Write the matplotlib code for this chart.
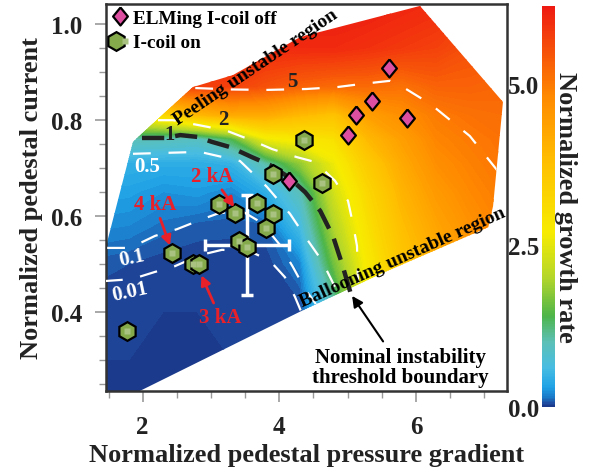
import matplotlib
matplotlib.use('Agg')
import matplotlib.pyplot as plt
import numpy as np
from matplotlib.colors import LinearSegmentedColormap, Normalize
from matplotlib.patches import Polygon
from matplotlib.legend_handler import HandlerTuple
from matplotlib.ticker import MultipleLocator, FormatStrFormatter

plt.rcParams['font.family'] = ['Liberation Serif', 'DejaVu Serif']
plt.rcParams['font.weight'] = 'bold'

# growth-rate map: rows = pedestal current, cols = pressure gradient
grid_x = [1.3, 1.8, 2.3, 2.8, 3.3, 3.8, 4.3, 4.8, 5.3, 5.8, 6.3, 6.8, 7.3]
grid_y = [0.15, 0.3, 0.4, 0.5, 0.58, 0.65, 0.71, 0.76, 0.81, 0.87, 0.95, 1.05]
growth = [
    [0, 0, 0, 0, 0, 0, 0, 0.4, 2.4, 3.2, 3.9, 4.3, 4.5],
    [0, 0, 0, 0, 0, 0, 0, 0.6, 2.5, 3.3, 3.95, 4.35, 4.55],
    [0.005, 0.001, 0, 0, 0.001, 0.002, 0.01, 0.9, 2.6, 3.4, 4.0, 4.4, 4.6],
    [0.08, 0.05, 0.015, 0.007, 0.01, 0.01, 0.18, 1.6, 2.8, 3.6, 4.1, 4.5, 4.8],
    [0.22, 0.2, 0.13, 0.08, 0.07, 0.09, 0.6, 2.0, 3.0, 3.8, 4.3, 4.65, 4.9],
    [0.34, 0.32, 0.25, 0.28, 0.2, 0.42, 0.95, 2.3, 3.2, 4.0, 4.5, 4.8, 4.98],
    [0.46, 0.45, 0.42, 0.42, 0.48, 1.05, 1.8, 2.6, 3.5, 4.2, 4.7, 4.9, 5.05],
    [1.0, 1.0, 0.95, 0.9, 1.4, 2.6, 2.8, 3.0, 3.9, 4.4, 4.85, 4.98, 5.1],
    [2.8, 2.8, 3.2, 3.9, 4.2, 4.2, 3.9, 3.7, 4.4, 4.7, 4.97, 5.1, 5.15],
    [5.3, 5.3, 5.6, 5.7, 5.7, 5.5, 5.3, 5.2, 5.2, 5.1, 5.3, 5.3, 5.25],
    [6.1, 6.1, 6.1, 6.1, 6.1, 6.0, 6.0, 6.0, 5.9, 5.8, 5.7, 5.5, 5.4],
    [6.2, 6.2, 6.2, 6.2, 6.2, 6.2, 6.2, 6.2, 6.2, 6.1, 6.0, 5.8, 5.6],
]

# outline of the scanned equilibria
hull_x = [1.3, 1.858, 2.736, 3.322, 4.303, 6.06, 7.275, 7.13, 7.06, 5.5, 4.3, 2.0, 1.3]
hull_y = [0.446, 0.754, 0.868, 0.893, 0.972, 1.037, 0.837, 0.620, 0.576, 0.48, 0.40, 0.238, 0.19]

# contour lines of growth rate
c001_x = [1.448, 1.843, 2.18, 2.473, 2.839, 3.161, 3.571, 3.864, 4.083, 4.23, 4.33]
c001_y = [0.464, 0.468, 0.483, 0.495, 0.518, 0.529, 0.526, 0.506, 0.472, 0.431, 0.397]
c01_x = [1.48, 1.814, 2.18, 2.502, 2.839, 3.088, 3.425, 3.747, 4.011, 4.201, 4.377, 4.537]
c01_y = [0.533, 0.533, 0.558, 0.572, 0.591, 0.604, 0.612, 0.585, 0.539, 0.493, 0.447, 0.416]
c05_x = [1.858, 2.839, 3.425, 3.82, 4.157, 4.406, 4.626, 4.859]
c05_y = [0.729, 0.733, 0.714, 0.66, 0.604, 0.551, 0.506, 0.439]
c2_x = [2.224, 2.444, 2.956, 3.249, 3.615, 3.893, 4.259, 4.523, 4.815, 5.006, 5.079, 5.138, 5.152]
c2_y = [0.799, 0.799, 0.785, 0.776, 0.756, 0.739, 0.722, 0.712, 0.673, 0.631, 0.583, 0.537, 0.46]
c5_x = [2.77, 3.3, 3.8, 4.4, 4.85, 5.18, 5.62, 5.81, 6.21, 6.79, 7.2, 7.26]
c5_y = [0.866, 0.863, 0.862, 0.864, 0.868, 0.874, 0.881, 0.868, 0.833, 0.766, 0.693, 0.68]
# nominal threshold (growth rate = 1)
c1_x = [1.99, 2.33, 2.55, 2.81, 3.01, 3.28, 3.6, 3.86, 4.13, 4.38, 4.6, 4.79, 4.92, 5.04]
c1_y = [0.762, 0.762, 0.768, 0.764, 0.754, 0.743, 0.722, 0.706, 0.681, 0.649, 0.61, 0.556, 0.499, 0.441]

# experimental points
elm_x = [5.606, 5.356, 5.122, 5.005, 5.869, 4.142]
elm_y = [0.908, 0.839, 0.810, 0.768, 0.804, 0.672]
coil_x = [4.362, 3.908, 4.625, 3.117, 3.351, 3.673, 3.908, 3.806, 3.410, 3.527, 2.429, 2.736, 2.824, 1.770]
coil_y = [0.758, 0.687, 0.668, 0.624, 0.606, 0.626, 0.604, 0.574, 0.547, 0.535, 0.522, 0.499, 0.499, 0.359]

# typical error bar
err_x, err_y = 3.527, 0.539
err_dx, err_dy = 0.62, 0.104

cmap = LinearSegmentedColormap.from_list('growth', [
    (0.0 / 6.2, '#1b3a8c'), (0.05 / 6.2, '#1f4ea2'), (0.15 / 6.2, '#1b7cca'),
    (0.3 / 6.2, '#1fa2e6'), (0.6 / 6.2, '#48bde2'), (1.0 / 6.2, '#5cc0b6'),
    (1.4 / 6.2, '#4db54a'), (2.0 / 6.2, '#b4d62a'), (2.7 / 6.2, '#f7ec00'),
    (3.8 / 6.2, '#ffbf00'), (4.8 / 6.2, '#ff8a00'), (1.0, '#ee1a12')])
norm = Normalize(0, 6.2)

fig = plt.figure(figsize=(5.94, 4.77), dpi=100)
ax = fig.add_axes([106 / 594, 1 - 392 / 477, 401 / 594, 387 / 477])
ax.set_xlim(1.463, 7.334)
ax.set_ylim(0.235, 1.041)

hull = Polygon(np.column_stack([hull_x, hull_y]), closed=True,
               transform=ax.transData, facecolor='none', edgecolor='none')
cs = ax.contourf(grid_x, grid_y, growth, levels=np.linspace(0, 6.2, 125),
                 cmap=cmap, norm=norm, extend='both', antialiased=False)
cs.set_clip_path(hull)

white = dict(color='white', lw=1.6, dashes=(8, 8), clip_path=hull, zorder=3)
for xs, ys in [(c001_x, c001_y), (c01_x, c01_y), (c05_x, c05_y), (c2_x, c2_y), (c5_x, c5_y)]:
    ax.plot(xs, ys, **white)
ax.plot(c1_x, c1_y, color='#222222', lw=3.2, dashes=(5, 2.5), zorder=4)

# contour labels
lab = dict(fontsize=15, fontweight='bold', ha='center', va='center', zorder=5)
ax.text(1.814, 0.443, '0.01', color='white', rotation=12, **lab)
ax.text(1.843, 0.514, '0.1', color='white', rotation=12, **lab)
ax.text(2.063, 0.703, '0.5', color='white', **lab)
ax.text(2.40, 0.770, '1', color='#222222', **lab)
ax.text(3.175, 0.801, '2', color='#222222', **lab)
ax.text(4.185, 0.881, '5', color='#222222', **lab)

ax.errorbar(err_x, err_y, xerr=err_dx, yerr=err_dy, color='white', lw=2.5,
            capsize=4, capthick=2.5, zorder=5)

diam = [(0, 1), (0.82, 0), (0, -1), (-0.82, 0), (0, 1)]
h_elm, = ax.plot(elm_x, elm_y, linestyle='none', marker=diam, ms=13,
                 mfc='#dd4fa0', mec='black', mew=1.6, zorder=7)
h_coil, = ax.plot(coil_x, coil_y, linestyle='none', marker='h', ms=13.5,
                  mfc='#84aa4c', mec='black', mew=1.6, zorder=6)
h_dot, = ax.plot(coil_x, coil_y, linestyle='none', marker='s', ms=4,
                 mfc='#a9c282', mec='none', zorder=6)

leg = ax.legend([h_elm, (h_coil, h_dot)], ['ELMing I-coil off', 'I-coil on'],
                handler_map={tuple: HandlerTuple(ndivide=None, pad=0)},
                loc='upper left', frameon=False, fontsize=13.8,
                handlelength=0.9, handletextpad=0.2, borderaxespad=0.1,
                borderpad=0.2, labelspacing=0.35)
for t in leg.get_texts():
    t.set_fontweight('bold')

red = '#e8202a'
arrow_red = dict(arrowstyle='-|>', color=red, lw=2, mutation_scale=14, shrinkA=1, shrinkB=0)
ax.annotate('2 kA', xy=(3.34, 0.618), xytext=(3.015, 0.683), color=red, fontsize=15,
            fontweight='bold', ha='center', va='center', arrowprops=arrow_red, zorder=8)
ax.annotate('4 kA', xy=(2.40, 0.538), xytext=(2.18, 0.624), color=red, fontsize=15,
            fontweight='bold', ha='center', va='center', arrowprops=arrow_red, zorder=8)
ax.annotate('3 kA', xy=(2.86, 0.476), xytext=(3.13, 0.389), color=red, fontsize=15,
            fontweight='bold', ha='center', va='center', arrowprops=arrow_red, zorder=8)

ax.text(3.66, 0.910, 'Peeling unstable region', rotation=34, fontsize=14,
        fontweight='bold', ha='center', va='center', rotation_mode='anchor', zorder=5)
ax.text(5.81, 0.514, 'Ballooning unstable region', rotation=24, fontsize=14,
        fontweight='bold', ha='center', va='center', rotation_mode='anchor', zorder=5)
ax.annotate('Nominal instability\nthreshold boundary', xy=(5.066, 0.433), xytext=(5.77, 0.286),
            fontsize=15, fontweight='bold', ha='center', va='center', linespacing=1.0,
            arrowprops=dict(arrowstyle='-|>', color='black', lw=1.5, mutation_scale=16,
                            shrinkA=2, shrinkB=0), zorder=8)

ax.xaxis.set_major_locator(MultipleLocator(2))
ax.xaxis.set_minor_locator(MultipleLocator(0.5))
ax.yaxis.set_major_locator(MultipleLocator(0.2))
ax.yaxis.set_minor_locator(MultipleLocator(0.05))
ax.yaxis.set_major_formatter(FormatStrFormatter('%.1f'))
ax.tick_params(which='both', direction='out', color='#999999', labelsize=18,
               labelcolor='#222222')
ax.tick_params(which='major', length=8, width=1.2, pad=9)
ax.tick_params(which='minor', length=5, width=1)
for s in ax.spines.values():
    s.set_linewidth(1.8)
    s.set_color('#333333')
ax.set_xlabel('Normalized pedestal pressure gradient', fontsize=19, fontweight='bold',
              color='#222222', labelpad=4)
ax.set_ylabel('Normalized pedestal current', fontsize=19, fontweight='bold',
              color='#222222', labelpad=6)

cax = fig.add_axes([542 / 594, 1 - 408 / 477, 13 / 594, 401 / 477])
cb = fig.colorbar(plt.cm.ScalarMappable(norm=norm, cmap=cmap), cax=cax)
cb.outline.set_visible(False)
cb.set_ticks([0, 2.5, 5.0])
cb.ax.yaxis.set_major_formatter(FormatStrFormatter('%.1f'))
cax.yaxis.set_ticks_position('left')
cax.tick_params(length=0, labelsize=18, labelcolor='#222222', pad=2)
cb.set_label('Normalized growth rate', fontsize=19, fontweight='bold', rotation=270,
             labelpad=16, color='#222222')
cax.yaxis.set_label_position('right')

fig.savefig('out.png', dpi=100)
